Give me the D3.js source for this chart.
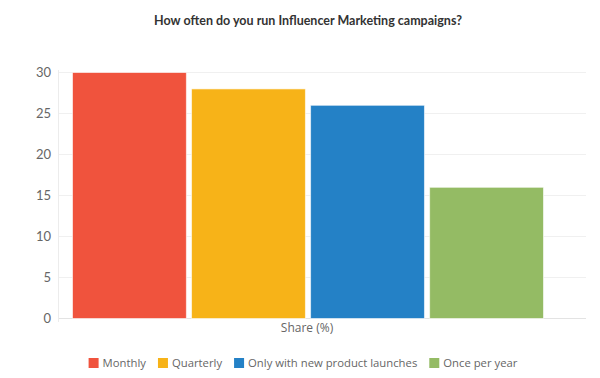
<!DOCTYPE html>
<meta charset="utf-8">
<title>Influencer Marketing campaigns</title>
<style>
body { margin: 0; background: #fff; }
.title { font: bold 12.5px Lato, "Open Sans", sans-serif; fill: #333; text-anchor: middle; }
.tick text { font: 13px Lato, "Open Sans", sans-serif; fill: #666; }
.xlabel { font: 12px "Open Sans", sans-serif; fill: #666; text-anchor: middle; }
.legend text { font: 11.3px "Open Sans", sans-serif; fill: #666; }
</style>
<svg id="chart" width="600" height="378"></svg>
<script src="https://d3js.org/d3.v7.min.js"></script>
<script>

var series = ["Monthly", "Quarterly", "Only with new product launches", "Once per year"];
var values = [30, 28, 26, 16];
var colors = ["#f0533d", "#f7b318", "#2481c6", "#94bb64"];
var yTicks = [0, 5, 10, 15, 20, 25, 30];

var svg = d3.select("#chart");

var plot = { left: 58, right: 586, top: 72, bottom: 318 };

var y = d3.scaleLinear()
    .domain([0, 30])
    .range([plot.bottom, plot.top]);

var x = d3.scaleBand()
    .domain(series)
    .range([72, 544])
    .paddingInner(0.035);

var mid = (72 + 544) / 2;

// gridlines
svg.append("g")
  .selectAll("line")
  .data(yTicks)
  .enter().append("line")
    .attr("x1", plot.left)
    .attr("x2", plot.right)
    .attr("y1", function(d) { return y(d) + 0.5; })
    .attr("y2", function(d) { return y(d) + 0.5; })
    .attr("stroke", function(d) { return d === 0 ? "#e3e3e3" : "#f0f0f0"; });

// y axis
var yAxis = svg.append("g")
    .attr("transform", "translate(" + plot.left + ",0)")
    .call(d3.axisLeft(y).tickValues(yTicks).tickSize(0).tickPadding(7));
yAxis.select(".domain").remove();

svg.append("line")
    .attr("x1", plot.left + 0.5)
    .attr("x2", plot.left + 0.5)
    .attr("y1", plot.top - 2)
    .attr("y2", plot.bottom + 4)
    .attr("stroke", "#ececec");

// bars
svg.append("g")
  .selectAll("rect")
  .data(series)
  .enter().append("rect")
    .attr("x", function(d) { return x(d) + 0.5; })
    .attr("y", function(d, i) { return y(values[i]) + 0.5; })
    .attr("width", x.bandwidth() - 1)
    .attr("height", function(d, i) { return y(0) - y(values[i]); })
    .attr("fill", function(d, i) { return colors[i]; })
    .attr("stroke", "#fff")
    .attr("stroke-opacity", 0.6)
    .attr("stroke-width", 1);

// title
svg.append("text")
    .attr("class", "title")
    .attr("x", mid)
    .attr("y", 25)
    .text("How often do you run Influencer Marketing campaigns?");

// x label
svg.append("text")
    .attr("class", "xlabel")
    .attr("x", mid - 1)
    .attr("y", 332)
    .text("Share (%)");

// legend, items laid out by their text widths and centred
var legend = svg.append("g")
    .attr("class", "legend");

var items = legend.selectAll("g")
  .data(series)
  .enter().append("g");

items.append("rect")
    .attr("y", 358)
    .attr("width", 10)
    .attr("height", 10)
    .attr("fill", function(d, i) { return colors[i]; });

items.append("text")
    .attr("x", 14)
    .attr("y", 367)
    .text(function(d) { return d; });

var offsets = [], pos = 0;
items.each(function() {
  offsets.push(pos);
  pos += 14 + d3.select(this).select("text").node().getComputedTextLength() + 12;
});
var total = pos - 12;
var start = mid - 5 - total / 2;
items.attr("transform", function(d, i) { return "translate(" + (start + offsets[i]) + ",0)"; });

</script>
